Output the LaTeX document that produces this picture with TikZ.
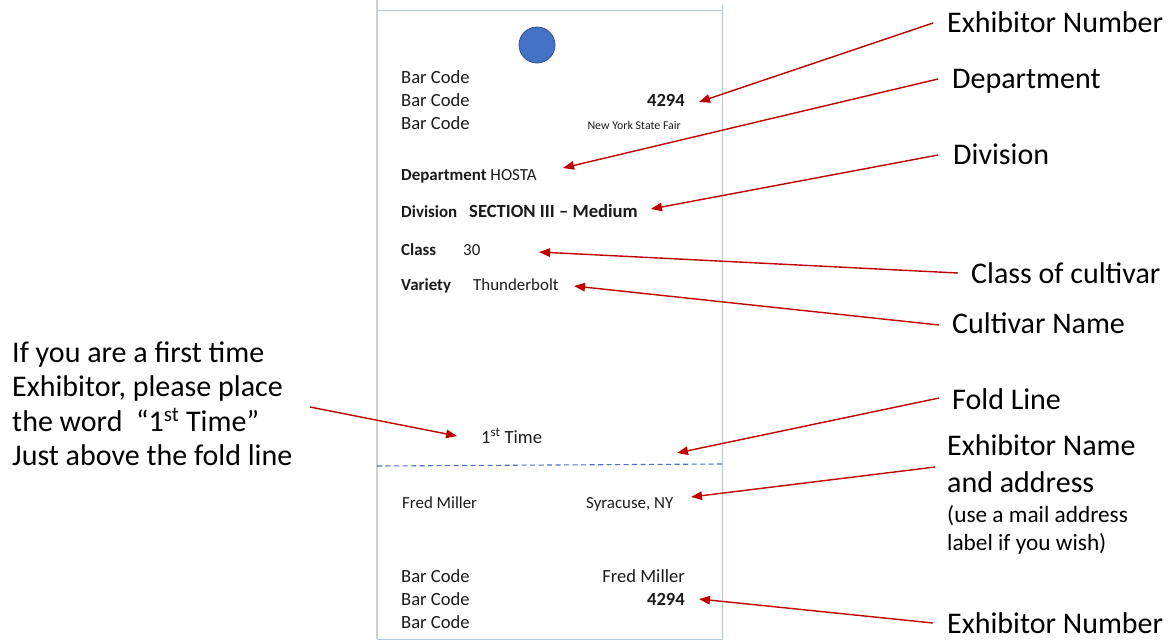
\documentclass[tikz,border=0pt]{standalone}
\usepackage{fontspec}
\setmainfont{Carlito}
\usetikzlibrary{arrows.meta}
\definecolor{arrred}{HTML}{C00000}
\definecolor{cardblue}{HTML}{B4C7E7}
\definecolor{cardgrey}{HTML}{D0D0D0}
\definecolor{dotblue}{HTML}{4472C4}
\definecolor{dotedge}{HTML}{2F528F}
\definecolor{inktext}{HTML}{1A1A1A}
\begin{document}
\begin{tikzpicture}[x=1pt,y=-1pt,
  cardtxt/.style={font=\fontsize{18.6}{21}\selectfont, inner sep=0pt, text=inktext},
  cardL/.style={cardtxt, anchor=base west},
  cardR/.style={cardtxt, anchor=base east},
  cardM/.style={font=\fontsize{16.9}{19}\selectfont, inner sep=0pt, text=inktext, anchor=base west},
  smalltxt/.style={font=\fontsize{11.9}{14}\selectfont, inner sep=0pt, anchor=base east, text=inktext},
  bigtext/.style={font=\fontsize{30}{36}\selectfont, inner sep=0pt, anchor=base west},
  notetext/.style={font=\fontsize{23.3}{27}\selectfont, inner sep=0pt, anchor=base west},
  pointer/.style={draw=arrred, line width=1.4pt, -{Triangle[length=11pt,width=8.5pt]}},
]
\useasboundingbox (0,0) rectangle (1174,641);

% card
\draw[cardblue, line width=1pt] (377,10) rectangle (722,639);
\draw[cardgrey, line width=1.6pt] (377,0) -- (377,639);
\draw[cardblue, line width=1pt] (722,5) -- (722,10);
\node[circle, minimum size=36pt, inner sep=0pt, fill=dotblue, draw=dotedge, line width=0.8pt] (hole) at (537,45) {};

% card texts
\node[cardL] (bc1) at (401,83) {Bar Code};
\node[cardL] (bc2) at (401,106) {Bar Code};
\node[cardL] (bc3) at (401,129) {Bar Code};
\node[cardR] (num1) at (685,106) {\bfseries 4294};
\node[smalltxt] (fair) at (681,129) {New York State Fair};
\node[cardM] (dept) at (401,180) {\textbf{Department} HOSTA};
\node[cardM] (div) at (401,217) {\textbf{Division}};
\node[cardL] (sect) at (469,217) {\textbf{SECTION III – Medium}};
\node[cardM] (cls) at (401,255) {\textbf{Class}};
\node[cardM] (clsv) at (463,255) {30};
\node[cardM] (var) at (401,290) {\textbf{Variety}};
\node[cardM] (varv) at (473,290) {Thunderbolt};
\node[cardL] (first) at (481,443) {1\textsuperscript{st} Time};
\coordinate (foldL) at (377,466);
\coordinate (foldR) at (722,464);
\draw[dotblue, line width=1.1pt, dash pattern=on 5pt off 3.5pt] (foldL) -- (foldR);
\node[cardM] (fm) at (402,508) {Fred Miller};
\node[cardM] (syr) at (586,508) {Syracuse, NY};
\node[cardL] (bc4) at (401,582) {Bar Code};
\node[cardL] (bc5) at (401,605) {Bar Code};
\node[cardL] (bc6) at (401,628) {Bar Code};
\node[cardR] (fm2) at (685,582) {Fred Miller};
\node[cardR] (num2) at (685,605) {\bfseries 4294};

% right labels
\node[bigtext] (lExh) at (947,32) {Exhibitor Number};
\node[bigtext] (lDept) at (952,88) {Department};
\node[bigtext] (lDiv) at (953,164) {Division};
\node[bigtext] (lClass) at (971,283) {Class of cultivar};
\node[bigtext] (lCult) at (952,333) {Cultivar Name};
\node[bigtext] (lFold) at (952,409) {Fold Line};
\node[bigtext] (lName1) at (947,455) {Exhibitor Name};
\node[bigtext] (lName2) at (947,492) {and address};
\node[notetext] (lNote1) at (947,522) {(use a mail address};
\node[notetext] (lNote2) at (947,550) {label if you wish)};
\node[bigtext] (lExh2) at (947,633) {Exhibitor Number};

% left text
\node[bigtext] (q1) at (12,362) {If you are a first time};
\node[bigtext] (q2) at (12,396.5) {Exhibitor, please place};
\node[bigtext] (q3) at (12,431) {the word\ \ “1\textsuperscript{st} Time”};
\node[bigtext] (q4) at (12,465.5) {Just above the fold line};

% arrow coordinates
\coordinate (s1) at (933,23);  \coordinate (e1) at (699,102);
\coordinate (s2) at (938,79);  \coordinate (e2) at (563,168);
\coordinate (s3) at (938,155); \coordinate (e3) at (651,209);
\coordinate (s4) at (958,273); \coordinate (e4) at (539,252);
\coordinate (s5) at (939,325); \coordinate (e5) at (574,286);
\coordinate (s6) at (939,398); \coordinate (e6) at (677,453);
\coordinate (s7) at (935,467); \coordinate (e7) at (691,497);
\coordinate (s8) at (933,623); \coordinate (e8) at (699,599);
\coordinate (s9) at (310,407); \coordinate (e9) at (457,436);

\foreach \i in {1,...,9} {\draw[pointer] (s\i) -- (e\i);}
\end{tikzpicture}
\end{document}
